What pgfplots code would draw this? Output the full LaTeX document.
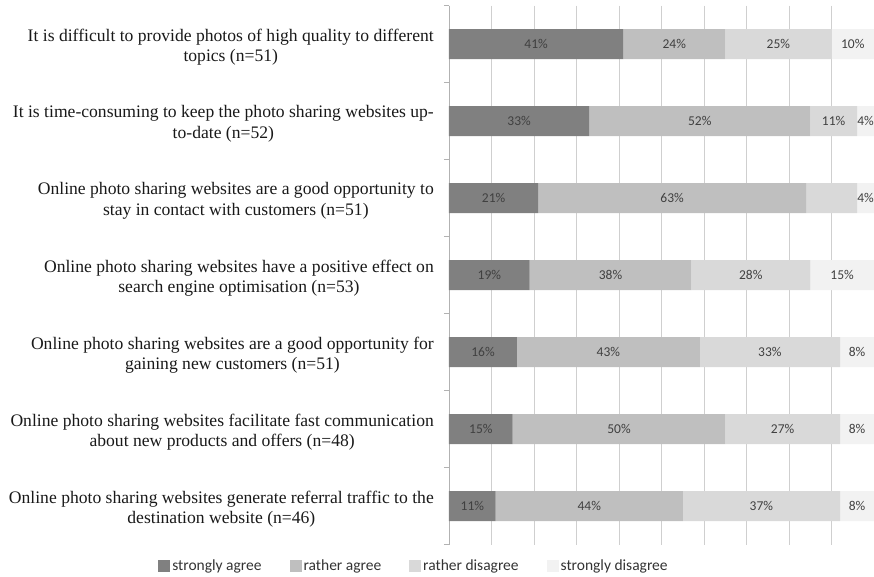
\documentclass[border=0pt]{standalone}
\usepackage{fontspec}
\setmainfont{Liberation Serif}
\newfontfamily\calib{Carlito}
\usepackage{pgfplots}
\usepackage{pgfplotstable}
\pgfplotsset{compat=1.18}

\definecolor{sagree}{HTML}{808080}
\definecolor{ragree}{HTML}{BFBFBF}
\definecolor{rdisagree}{HTML}{D9D9D9}
\definecolor{sdisagree}{HTML}{F2F2F2}
\definecolor{labgray}{HTML}{404040}

% shares in percent, one row per statement (top to bottom)
\pgfplotstableread{
row sa ra rd sd rdshow
0 41 24 25 10 1
1 33 52 11 4 1
2 21 63 12 4 0
3 19 38 28 15 1
4 16 43 33 8 1
5 15 50 27 8 1
6 11 44 37 8 1
}\survey

\begin{document}
\begin{tikzpicture}
\begin{axis}[
  name=ax,
  scale only axis, width=425pt, height=539pt,
  xbar stacked, bar width=30pt,
  xmin=0, xmax=100, ymin=-0.5, ymax=6.5, y dir=reverse,
  xtick={0,10,...,100}, xticklabels={},
  xmajorgrids, major grid style={draw=gray!38, line width=0.7pt},
  axis lines*=left,
  x axis line style={draw=none},
  y axis line style={draw=gray!60, line width=0.7pt},
  major tick length=0pt,
  ytick={0,...,6},
  minor ytick={-0.5,0.5,...,6.5}, minor tick length=5pt, tick align=outside,
  minor tick style={draw=gray!60, line width=0.7pt},
  yticklabels={
    {It is difficult to provide photos of high quality to different\\topics (n=51)},
    {It is time-consuming to keep the photo sharing websites up-\\to-date (n=52)},
    {Online photo sharing websites are a good opportunity to\\stay in contact with customers (n=51)},
    {Online photo sharing websites have a positive effect on\\search engine optimisation (n=53)},
    {Online photo sharing websites are a good opportunity for\\gaining new customers (n=51)},
    {Online photo sharing websites facilitate fast communication\\about new products and offers (n=48)},
    {Online photo sharing websites generate referral traffic to the\\destination website (n=46)}},
  yticklabel style={align=center, inner sep=0pt, xshift=-15pt, yshift=-3pt, text=black!90,
    font=\fontsize{17.6}{20.5}\selectfont},
  /pgf/number format/assume math mode=true,
  nodes near coords={\pgfmathprintnumber{\pgfplotspointmeta}\%},
  nodes near coords style={font=\calib\fontsize{13.5}{15}\selectfont, text=labgray},
  legend image code/.code={\fill[#1] (0pt,-6pt) rectangle (12pt,6pt);},
  legend style={draw=none, fill=none, legend columns=4,
    at={(axis description cs:-0.0824,0)}, anchor=center, yshift=-21.5pt,
    font=\calib\fontsize{15.5}{17}\selectfont, text=black!80,
    nodes={inner xsep=2pt},
    /tikz/every even column/.append style={column sep=26pt}},
]
\addplot[fill=sagree, draw=none, point meta=explicit]
  table[x=sa, y=row, meta=sa] {\survey};
\addplot[fill=ragree, draw=none, point meta=explicit]
  table[x=ra, y=row, meta=ra] {\survey};
\addplot[fill=rdisagree, draw=none, point meta=explicit,
  visualization depends on={\thisrow{rdshow} \as \rdshow},
  nodes near coords={\ifdim\rdshow pt>0.5pt \pgfmathprintnumber{\pgfplotspointmeta}\%\fi}]
  table[x=rd, y=row, meta=rd] {\survey};
\addplot[fill=sdisagree, draw=none, point meta=explicit]
  table[x=sd, y=row, meta=sd] {\survey};
\legend{strongly agree, rather agree, rather disagree, strongly disagree}
\end{axis}
\path (ax.south west) ++(-449pt,-32.5pt) coordinate (bbl);
\path (ax.north east) ++(0pt,5.5pt) coordinate (btr);
\pgfresetboundingbox
\useasboundingbox (bbl) rectangle (btr);
\end{tikzpicture}
\end{document}
